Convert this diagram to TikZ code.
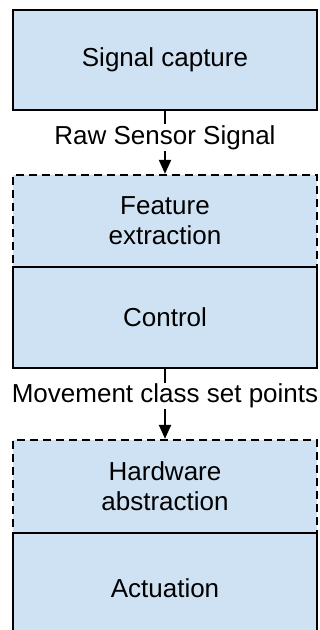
\documentclass[tikz,border=0pt]{standalone}
\usepackage{fontspec}
\setmainfont{Liberation Sans}
\usetikzlibrary{arrows.meta}
\definecolor{boxblue}{HTML}{CFE2F3}
\tikzset{
  stage/.style={draw=black, fill=boxblue, line width=2.4pt, rectangle,
    minimum width=304pt, inner sep=0pt, align=center,
    font=\fontsize{26pt}{30pt}\selectfont},
  softstage/.style={stage, dash pattern=on 8pt off 5pt},
  flow/.style={draw=black, line width=2.2pt, -{Triangle[width=12pt,length=14pt]}},
  flowlabel/.style={fill=white, inner sep=1pt, text=black,
    font=\fontsize{26pt}{30pt}\selectfont}
}
\begin{document}
\begin{tikzpicture}[x=1pt,y=-1pt]
  \useasboundingbox (0,0) rectangle (320,630);
  \clip (0,0) rectangle (320,630);
  % stacked processing stages
  \node[stage, minimum height=100pt] (cap) at (165,60) {Signal capture};
  \node[softstage, minimum height=92pt] (feat) at (165,221) {Feature\\extraction};
  \node[stage, minimum height=101pt] (ctrl) at (165,317.5) {Control};
  \node[softstage, minimum height=93pt] (hw) at (165,486.5) {Hardware\\abstraction};
  \node[stage, minimum height=110pt] (act) at (165,588) {Actuation};
  % data flow between stages
  \draw[flow] (cap.south) -- (feat.north)
    node[flowlabel, pos=0.42] {Raw Sensor Signal};
  \draw[flow] (ctrl.south) -- (hw.north)
    node[flowlabel, pos=0.38] {Movement class set points};
\end{tikzpicture}
\end{document}
